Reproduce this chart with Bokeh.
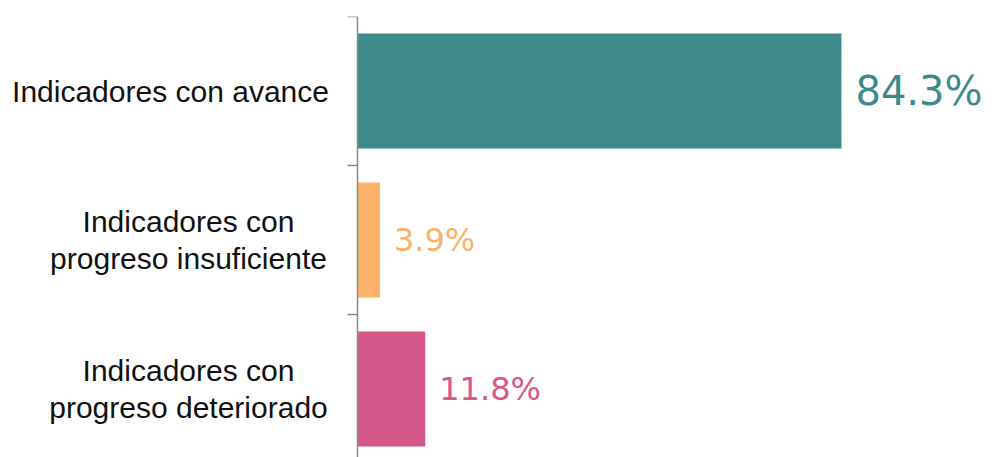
from bokeh.plotting import figure
from bokeh.models import ColumnDataSource, Range1d, LinearAxis, FixedTicker
from bokeh.core.properties import value
from bokeh.embed import file_html
from bokeh.resources import INLINE

# ---- data ----
categories = ["Indicadores con avance",
              "Indicadores con\nprogreso insuficiente",
              "Indicadores con\nprogreso deteriorado"]
values = [84.3, 3.9, 11.8]
colors = ["#3E8A8B", "#FAB26A", "#D6588B"]
value_labels = [f"{v}%" for v in values]

n = len(categories)
ypos = [n - i - 0.5 for i in range(n)]
value_sizes = ["40px", "32px", "32px"]
# layout: horizontal centre of each category label block, px from the axis
label_cx = [-187, -169, -169]

src = ColumnDataSource(dict(cat=categories, val=values, y=ypos, color=colors,
                            vlab=value_labels, vsize=value_sizes, cx=label_cx,
                            zero=[0] * n))

W, H = 992, 457
axis_px, top = 357, 16
px_per_unit = 5.741
band_px = 149
frame_h = H - top
p = figure(width=W, height=H, output_backend="svg", toolbar_location=None,
           x_axis_location=None, y_axis_location=None,
           x_range=Range1d(-axis_px / px_per_unit, (W - axis_px) / px_per_unit),
           y_range=Range1d(n - frame_h / band_px, n),
           min_border_left=0, min_border_right=0,
           min_border_top=top, min_border_bottom=0)
p.outline_line_color = None
p.xgrid.visible = False
p.ygrid.visible = False

p.hbar(y="y", right="val", left=0, height=115 / band_px, color="color",
       line_color=None, source=src)

ax = LinearAxis(ticker=FixedTicker(ticks=list(range(1, n + 1))), fixed_location=0)
ax.axis_line_color = "#8a8a8a"
ax.axis_line_width = 1.5
ax.major_tick_line_color = "#8a8a8a"
ax.major_tick_line_width = 1.5
ax.major_tick_out = 10
ax.major_tick_in = 0
ax.minor_tick_line_color = None
ax.major_label_text_color = None
ax.major_label_text_font_size = "1px"
ax.major_label_standoff = 0
p.add_layout(ax, "left")

# value labels
p.text(x="val", y="y", text="vlab", source=src, x_offset=14,
       text_baseline="middle", text_align="left",
       text_color="color", text_font=value("DejaVu Sans"),
       text_font_size="vsize")

# category labels (lines centred within each block)
p.text(x="zero", y="y", text="cat", source=src, x_offset="cx",
       text_baseline="middle", text_align="center",
       text_color="#111111", text_font=value("Liberation Sans"),
       text_font_size="30px", text_line_height=1.12)

open("out.html", "w").write(file_html(p, INLINE))
